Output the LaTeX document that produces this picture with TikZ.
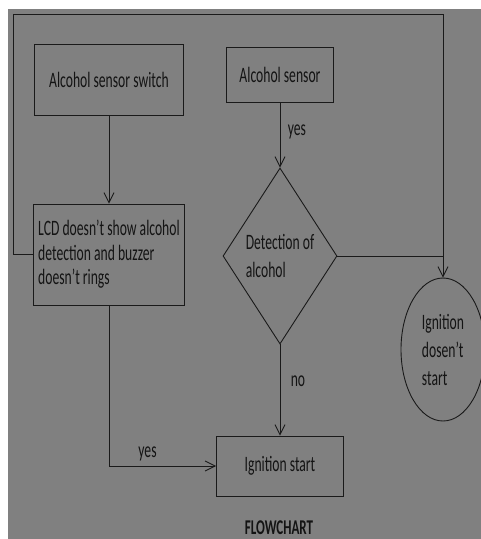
\documentclass[tikz,border=0pt]{standalone}
\usepackage{fontspec}
\setmainfont{Carlito}[FakeStretch=0.62]
\usepackage{tikz}
\usetikzlibrary{shapes.geometric,arrows.meta}
\definecolor{flowbg}{HTML}{808080}
\definecolor{flowline}{HTML}{1A1A1A}

\begin{document}
\begin{tikzpicture}[x=1pt,y=-1pt,
  txt/.style={font=\fontsize{22}{25}\selectfont,text=black!92},
  box/.style={draw=flowline,line width=0.9pt,inner sep=3pt,txt},
  line/.style={draw=flowline,line width=0.9pt},
  flow/.style={line,-{Straight Barb[length=10pt,width=10pt]}}]
  \useasboundingbox (0,0) rectangle (481,539);
  \fill[flowbg] (8,9) rectangle (481,539);

  \node[box,minimum width=149pt,minimum height=71pt] (switch) at (109,79.5) {Alcohol sensor switch};
  \node[box,minimum width=107pt,minimum height=55pt] (sensor) at (280,74.5) {Alcohol sensor};
  \node[box,minimum width=151pt,minimum height=101pt,align=left,
        font=\fontsize{22}{24.5}\selectfont] (lcd) at (109,254.5)
        {LCD doesn't show alcohol\\detection and buzzer\\doesn't rings};
  \node[box,diamond,minimum width=114pt,minimum height=176pt,inner sep=0pt,align=left,
        font=\fontsize{22}{28}\selectfont] (detect) at (280,256) {Detection of\\alcohol};
  \node[box,ellipse,minimum width=84pt,minimum height=143pt,inner sep=0pt,align=left,
        font=\fontsize{22}{28}\selectfont] (nostart) at (443,349.5) {Ignition\\dosen't\\start};
  \node[box,minimum width=127pt,minimum height=60pt] (start) at (280,466) {Ignition start};
  \node[txt,font=\fontsize{21}{24}\selectfont\bfseries,inner sep=1pt] (title) at (279,528) {FLOWCHART};
  \coordinate (loop) at (13,14);

  \draw[flow] (switch) -- (lcd);
  \draw[flow] (sensor) -- node[txt,right=4pt,pos=0.45] (yes1) {yes} (detect);
  \draw[flow] (detect) -- node[txt,right=7pt,pos=0.4] (no) {no} (start);
  \draw[flow] (lcd) |- node[txt,above=1pt,pos=0.68] (yes2) {yes} (start);
  \draw[flow] (lcd.west) -| (loop) -| (nostart.north);
  \draw[line] (detect.east) -- (detect.east -| nostart.north);
\end{tikzpicture}
\end{document}
